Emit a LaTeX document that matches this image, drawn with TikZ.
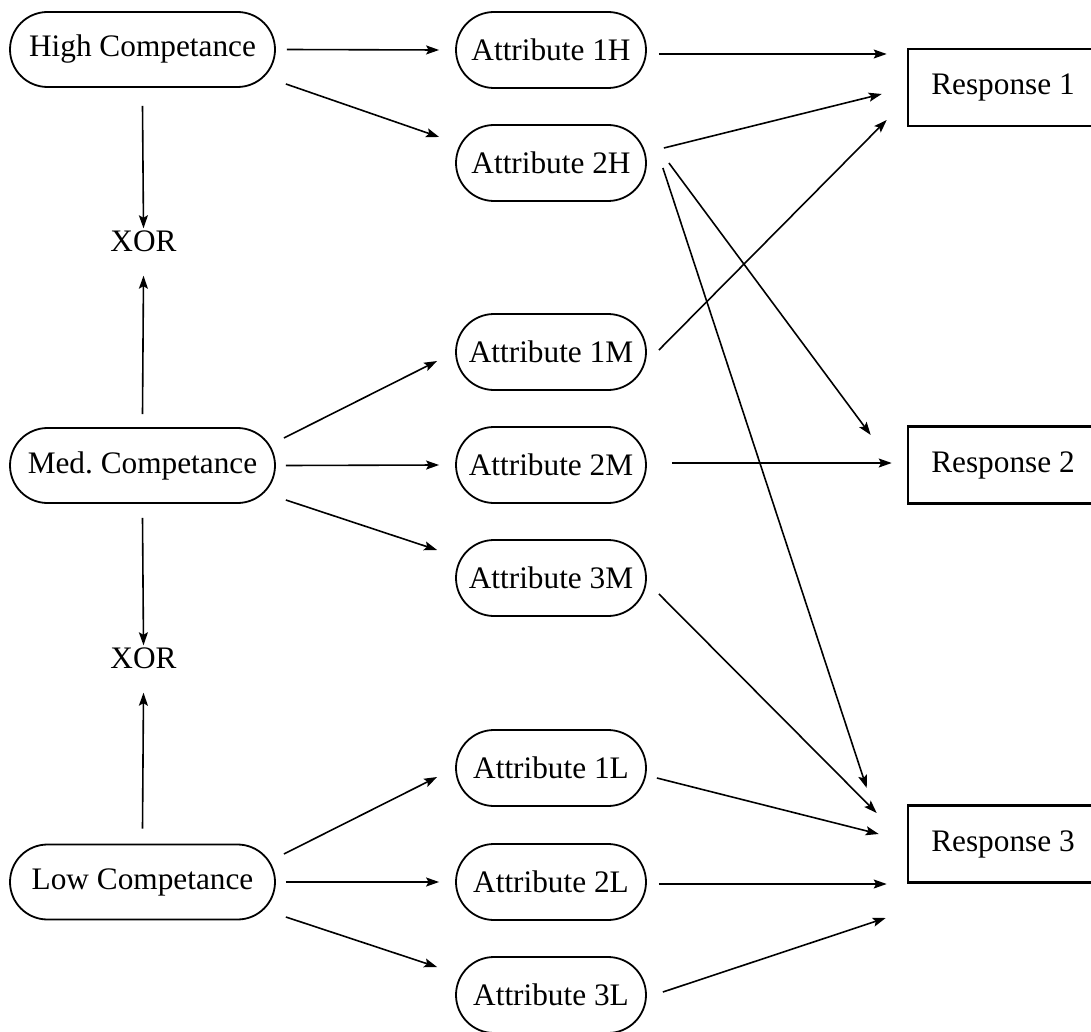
\documentclass[tikz,border=0pt]{standalone}
\usepackage{fontspec}
\setmainfont{Liberation Serif}
\usetikzlibrary{arrows.meta,calc}

\tikzset{
  compnode/.style={draw, line width=1.8pt, rounded corners=37.5pt, minimum width=265pt, minimum height=75pt, inner sep=0pt},
  attrnode/.style={draw, line width=1.8pt, rounded corners=38pt, minimum width=190pt, minimum height=76pt, inner sep=0pt},
  respnode/.style={draw, line width=2.6pt, minimum width=190pt, minimum height=77pt, inner sep=0pt},
  xornode/.style={inner sep=0pt},
  link/.style={line width=1.6pt, -{Stealth[length=13pt,width=9pt,inset=2.5pt]}}
}

\begin{document}
\begin{tikzpicture}[x=1pt,y=1pt,yscale=-1,font=\fontsize{31.3}{36}\selectfont]
\useasboundingbox (0,0) rectangle (1091,1032);

% Competance levels
\node[compnode] (HC) at (142.5,49.5) {High Competance};
\node[compnode] (MC) at (142.5,465.5) {Med.\ Competance};
\node[compnode] (LC) at (142.5,882) {Low Competance};
% XOR labels
\node[xornode] (XOR1) at (143.5,241) {XOR};
\node[xornode] (XOR2) at (143.5,658) {XOR};

% Attributes
\node[attrnode] (A1H) at (551,50) {Attribute 1H};
\node[attrnode] (A2H) at (551,163) {Attribute 2H};
\node[attrnode] (A1M) at (551,352) {Attribute 1M};
\node[attrnode] (A2M) at (551,465) {Attribute 2M};
\node[attrnode] (A3M) at (551,578) {Attribute 3M};
\node[attrnode] (A1L) at (551,768) {Attribute 1L};
\node[attrnode] (A2L) at (551,882) {Attribute 2L};
\node[attrnode] (A3L) at (551,995) {Attribute 3L};

% Responses
\node[respnode] (R1) at (1003,87.5) {Response 1};
\node[respnode] (R2) at (1003,465) {Response 2};
\node[respnode] (R3) at (1003,844) {Response 3};

% XOR arrows
\draw[link] ($(HC.south)+(0,18)$) -- ($(XOR1.north)+(0,-2)$);
\draw[link] ($(MC.north)+(0,-13)$) -- ($(XOR1.south)+(0,24)$);
\draw[link] ($(MC.south)+(0,14)$) -- ($(XOR2.north)+(0,-2)$);
\draw[link] ($(LC.north)+(0,-15)$) -- ($(XOR2.south)+(0,24)$);

% Competance -> attributes
\draw[link] ($(HC.east)+(11,0)$) -- ($(A1H.west)+(-16,0)$);
\draw[link] ($(HC.east)+(10,34.5)$) -- ($(A2H.west)+(-16,-26)$);
\draw[link] ($(MC.east)+(8,-27.5)$) -- ($(A1M.west)+(-18,9)$);
\draw[link] ($(MC.east)+(10,0)$) -- ($(A2M.west)+(-16,0)$);
\draw[link] ($(MC.east)+(10,34.5)$) -- ($(A3M.west)+(-18,-28)$);
\draw[link] ($(LC.east)+(8,-28)$) -- ($(A1L.west)+(-18,9)$);
\draw[link] ($(LC.east)+(10,0)$) -- ($(A2L.west)+(-16,0)$);
\draw[link] ($(LC.east)+(10,35)$) -- ($(A3L.west)+(-18,-28)$);

% Attributes -> responses
\draw[link] ($(A1H.east)+(12,4)$) -- ($(R1.west)+(-20,-33.5)$);
\draw[link] ($(A2H.east)+(17,-15)$) -- ($(R1.west)+(-25,6.5)$);
\draw[link] ($(A1M.east)+(12,-2)$) -- ($(R1.west)+(-20,32.5)$);
\draw[link] ($(A2H.east)+(22,0)$) -- ($(R2.west)+(-36,-30)$);
\draw[link] ($(A2H.east)+(16,5)$) -- ($(R3.west)+(-40,-56)$);
\draw[link] ($(A2M.east)+(25,-2)$) -- ($(R2.west)+(-15,-2)$);
\draw[link] ($(A3M.east)+(12,16)$) -- ($(R3.west)+(-30,-31)$);
\draw[link] ($(A1L.east)+(10,10)$) -- ($(R3.west)+(-28,-10)$);
\draw[link] ($(A2L.east)+(12,2)$) -- ($(R3.west)+(-20,40)$);
\draw[link] ($(A3L.east)+(16,-3)$) -- ($(R3.west)+(-21,74)$);

\end{tikzpicture}
\end{document}
